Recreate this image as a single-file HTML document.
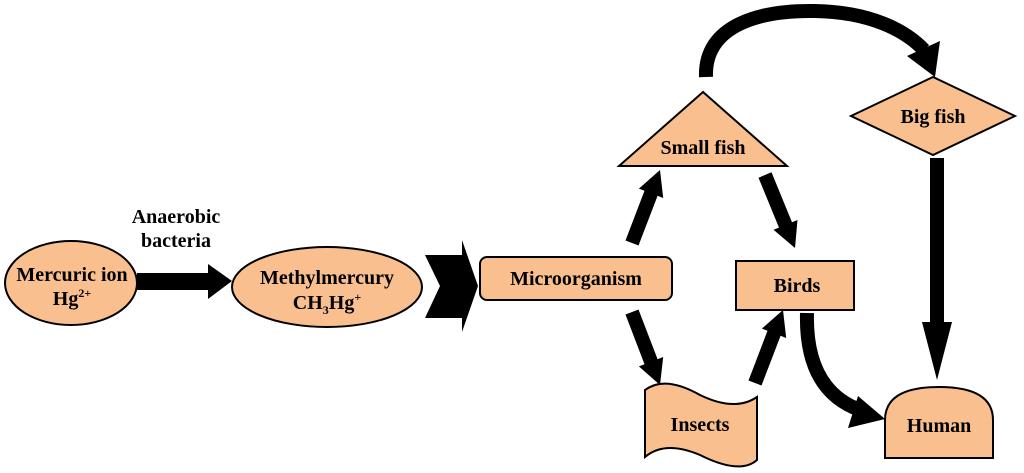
<!DOCTYPE html>
<html><head><style>
html,body{margin:0;padding:0;background:#fff;}
svg{display:block;}
text{font-family:"Liberation Serif",serif;font-weight:bold;fill:#000;}
</style></head><body>
<svg width="1024" height="473" viewBox="0 0 1024 473" xmlns="http://www.w3.org/2000/svg">
<g fill="#F9BF8F" stroke="#000" stroke-width="2">
<ellipse cx="71" cy="283" rx="66" ry="42"/>
<ellipse cx="327" cy="287" rx="95" ry="40"/>
<rect x="480" y="257" width="192" height="43" rx="7"/>
<polygon points="703,92 619,166 787,166"/>
<polygon points="851,116 933,77 1015,116 933,155"/>
<rect x="736" y="261" width="118" height="49"/>
<path d="M885,458 L885,420 Q885,387 939,387 Q993,387 993,420 L993,458 Z"/>
<path d="M645,390 Q665,375 700,395 Q735,412 757,397 L757,460 Q740,475 700,455 Q665,440 645,457 Z"/>
</g>
<g fill="#000">
<rect x="137" y="273" width="73" height="17"/>
<polygon points="208,264 232,281 208,299"/>
<polygon points="425,255 462,255 462,240 478,286 462,332 462,318 425,318 440,286"/>
<polygon points="625.5,240.5 644.5,190.8 638.9,188.6 660,170 663.2,198.0 657.6,195.8 638.5,245.5"/>
<polygon points="758.5,177.7 779.0,227.6 773.5,229.8 795,248 797.5,220.0 792.0,222.2 771.5,172.3"/>
<polygon points="625.5,314.5 644.5,364.2 638.9,366.4 660,385 663.2,357.0 657.6,359.2 638.5,309.5"/>
<polygon points="748.5,380.5 767.5,330.8 761.9,328.6 783,310 786.2,338.0 780.6,335.8 761.5,385.5"/>
<rect x="930" y="158" width="14" height="166"/>
<polygon points="922,322 952,322 937,380"/>
<polygon points="848,428 885,419 858,396"/>
<polygon points="907,56 940,41 935,77"/>
</g>
<g stroke="#000" stroke-width="14" fill="none">
<path d="M807,313 Q805,390 860,410"/>
<path d="M706,77 C704,25 760,10 815,11 C870,12 905,30 924,50"/>
</g>
<text x="176" y="223" font-size="20" text-anchor="middle">Anaerobic</text>
<text x="176" y="247" font-size="20" text-anchor="middle">bacteria</text>
<text x="72" y="281" font-size="20" text-anchor="middle">Mercuric ion</text>
<text x="72" y="305" font-size="20" text-anchor="middle">Hg<tspan font-size="12" dy="-8">2+</tspan></text>
<text x="327" y="284" font-size="20" text-anchor="middle">Methylmercury</text>
<text x="327" y="309" font-size="20" text-anchor="middle">CH<tspan font-size="12" dy="5">3</tspan><tspan dy="-5">Hg</tspan><tspan font-size="12" dy="-8">+</tspan></text>
<text x="576" y="285" font-size="20" text-anchor="middle">Microorganism</text>
<text x="703" y="154" font-size="20" text-anchor="middle">Small fish</text>
<text x="933" y="123" font-size="20" text-anchor="middle">Big fish</text>
<text x="797" y="292" font-size="20" text-anchor="middle">Birds</text>
<text x="700" y="431" font-size="20" text-anchor="middle">Insects</text>
<text x="939" y="432" font-size="20" text-anchor="middle">Human</text>
</svg>
</body></html>
